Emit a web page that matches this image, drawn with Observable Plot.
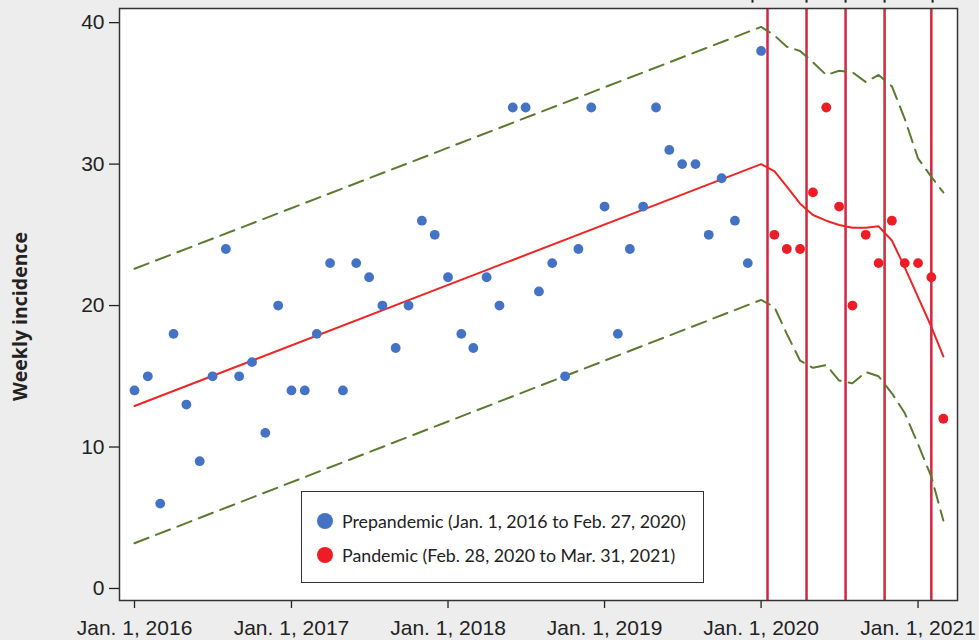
<!DOCTYPE html>
<html><head><meta charset="utf-8">
<script src="https://cdn.jsdelivr.net/npm/d3@7"></script>
<script src="https://cdn.jsdelivr.net/npm/@observablehq/plot@0.6"></script>
<style>
html,body{margin:0;padding:0;background:#ededed;}
#wrap{position:relative;width:979px;height:640px;overflow:hidden;}
#wrap svg{display:block;}
.legend{position:absolute;left:301px;top:491px;width:403px;height:92px;border:1.5px solid #333;background:#fff;box-sizing:border-box;font-family:Lato, "Noto Sans", sans-serif;font-size:17.8px;color:#222;}
.item{position:absolute;left:15px;display:flex;align-items:center;white-space:nowrap;}
.sw{width:16px;height:16px;border-radius:50%;margin-right:9px;}
</style>
</head><body>
<div id="wrap"></div>
<script>
// Monthly observed counts
const prepandemicStart = "2016-01-01";
const prepandemicValues = [14,15,6,18,13,9,15,24,15,16,11,20,
  14,14,18,23,14,23,22,20,17,20,26,25,
  22,18,17,22,20,34,34,21,23,15,24,34,
  27,18,24,27,34,31,30,30,25,29,26,23,
  38];
const pandemicStart = "2020-02-01";
const pandemicValues = [25,24,24,28,34,27,20,25,23,26,23,23,22,12];

// Expected line and 95% band (vertices)
const expectedDates = ["2016-01-01","2020-01-01","2020-02-01","2020-03-01","2020-04-01","2020-05-01","2020-06-01","2020-07-01","2020-08-01","2020-09-01","2020-10-01","2020-11-01","2020-12-01","2021-01-01","2021-02-01","2021-03-01"];
const expectedValues = [12.9,30.0,29.5,28.4,27.2,26.4,26.0,25.7,25.5,25.5,25.6,24.6,22.7,20.6,18.5,16.4];
const upperValues    = [22.6,39.7,39.1,38.3,38.0,37.2,36.3,36.6,36.5,35.8,36.3,35.5,33.2,30.4,29.1,28.0];
const lowerValues    = [3.2,20.4,19.9,18.0,16.1,15.6,15.8,14.7,14.5,15.3,15.0,13.8,12.4,10.2,7.9,4.8];

// Event lines and the cut-off annotation pointers above the frame
const eventDates = ["2020-01-16","2020-04-16","2020-07-16","2020-10-15","2021-02-01"];
const pointerDates = ["2019-12-12","2020-04-16","2020-07-16","2020-10-15","2021-02-04"];

// Axes
const xTickDates = ["2016-01-01","2017-01-01","2018-01-01","2019-01-01","2020-01-01","2021-01-01"];
const xTickLabels = ["Jan. 1, 2016","Jan. 1, 2017","Jan. 1, 2018","Jan. 1, 2019","Jan. 1, 2020","Jan. 1, 2021"];
const yTicks = [0,10,20,30,40];
const yLabel = "Weekly incidence";
const legendLabels = ["Prepandemic (Jan. 1, 2016 to Feb. 27, 2020)","Pandemic (Feb. 28, 2020 to Mar. 31, 2021)"];

const colors = {pre:"#4472c4", pan:"#ee1d25", line:"#ee2525", band:"#5b7a2f", event:"#d0283e"};

const monthsFrom = (start, n) => d3.utcMonth.range(new Date(start), d3.utcMonth.offset(new Date(start), n));
const preDates = monthsFrom(prepandemicStart, prepandemicValues.length);
const panDates = monthsFrom(pandemicStart, pandemicValues.length);
const pre = prepandemicValues.map((v,i)=>({date:preDates[i], value:v}));
const pan = pandemicValues.map((v,i)=>({date:panDates[i], value:v}));
const band = expectedDates.map((d,i)=>({date:new Date(d), exp:expectedValues[i], up:upperValues[i], lo:lowerValues[i]}));
const tickDates = xTickDates.map(d=>new Date(d));

const chart = Plot.plot({
  width: 979, height: 640,
  marginLeft: 119, marginRight: 22, marginTop: 8, marginBottom: 40,
  style: {background:"transparent", fontFamily:"'Liberation Sans', Arial, sans-serif", fontSize:"21px", color:"#222", overflow:"visible"},
  x: {type:"utc", domain:[new Date("2015-11-27"), new Date("2021-04-03")]},
  y: {domain:[-0.85, 41.0]},
  marks: [
    Plot.frame({fill:"white", stroke:null}),
    Plot.axisX({ticks: tickDates, tickFormat: d => xTickLabels[tickDates.findIndex(t => +t === +d)], tickSize: 8, tickPadding: 12, label: null, strokeWidth: 1.3}),
    Plot.axisY({ticks: yTicks, tickSize: 10, tickPadding: 5, label: null, strokeWidth: 1.3}),
    Plot.ruleX(eventDates.map(d=>new Date(d)), {stroke: colors.event, strokeWidth: 2.5}),
    Plot.ruleX(pointerDates.map(d=>new Date(d)), {y1: 41.6, y2: 41.38, stroke: "#222", strokeWidth: 2}),
    Plot.line(band, {x:"date", y:"up", stroke: colors.band, strokeWidth: 2, strokeDasharray: "15,8"}),
    Plot.line(band, {x:"date", y:"lo", stroke: colors.band, strokeWidth: 2, strokeDasharray: "15,8"}),
    Plot.line(band, {x:"date", y:"exp", stroke: colors.line, strokeWidth: 2}),
    Plot.dot(pre, {x:"date", y:"value", r: 4.9, fill: colors.pre}),
    Plot.dot(pan, {x:"date", y:"value", r: 4.9, fill: colors.pan}),
    Plot.frame({stroke:"#333", strokeWidth: 1.5}),
    Plot.text([yLabel], {frameAnchor:"left", textAnchor:"middle", dx:-99, dy:12, rotate:-90, fontWeight:"bold", fontFamily:"'Open Sans', sans-serif", fontSize:19.5, fill:"#222"})
  ]
});
const wrap = document.getElementById("wrap");
wrap.appendChild(chart);

const legend = document.createElement("div");
legend.className = "legend";
[[legendLabels[0], colors.pre, 18], [legendLabels[1], colors.pan, 52]].forEach(([t,c,top])=>{
  const it = document.createElement("div");
  it.className = "item"; it.style.top = top + "px";
  const sw = document.createElement("div"); sw.className = "sw"; sw.style.background = c;
  const tx = document.createElement("span"); tx.textContent = t;
  it.appendChild(sw); it.appendChild(tx);
  legend.appendChild(it);
});
wrap.appendChild(legend);
</script>
</body></html>
